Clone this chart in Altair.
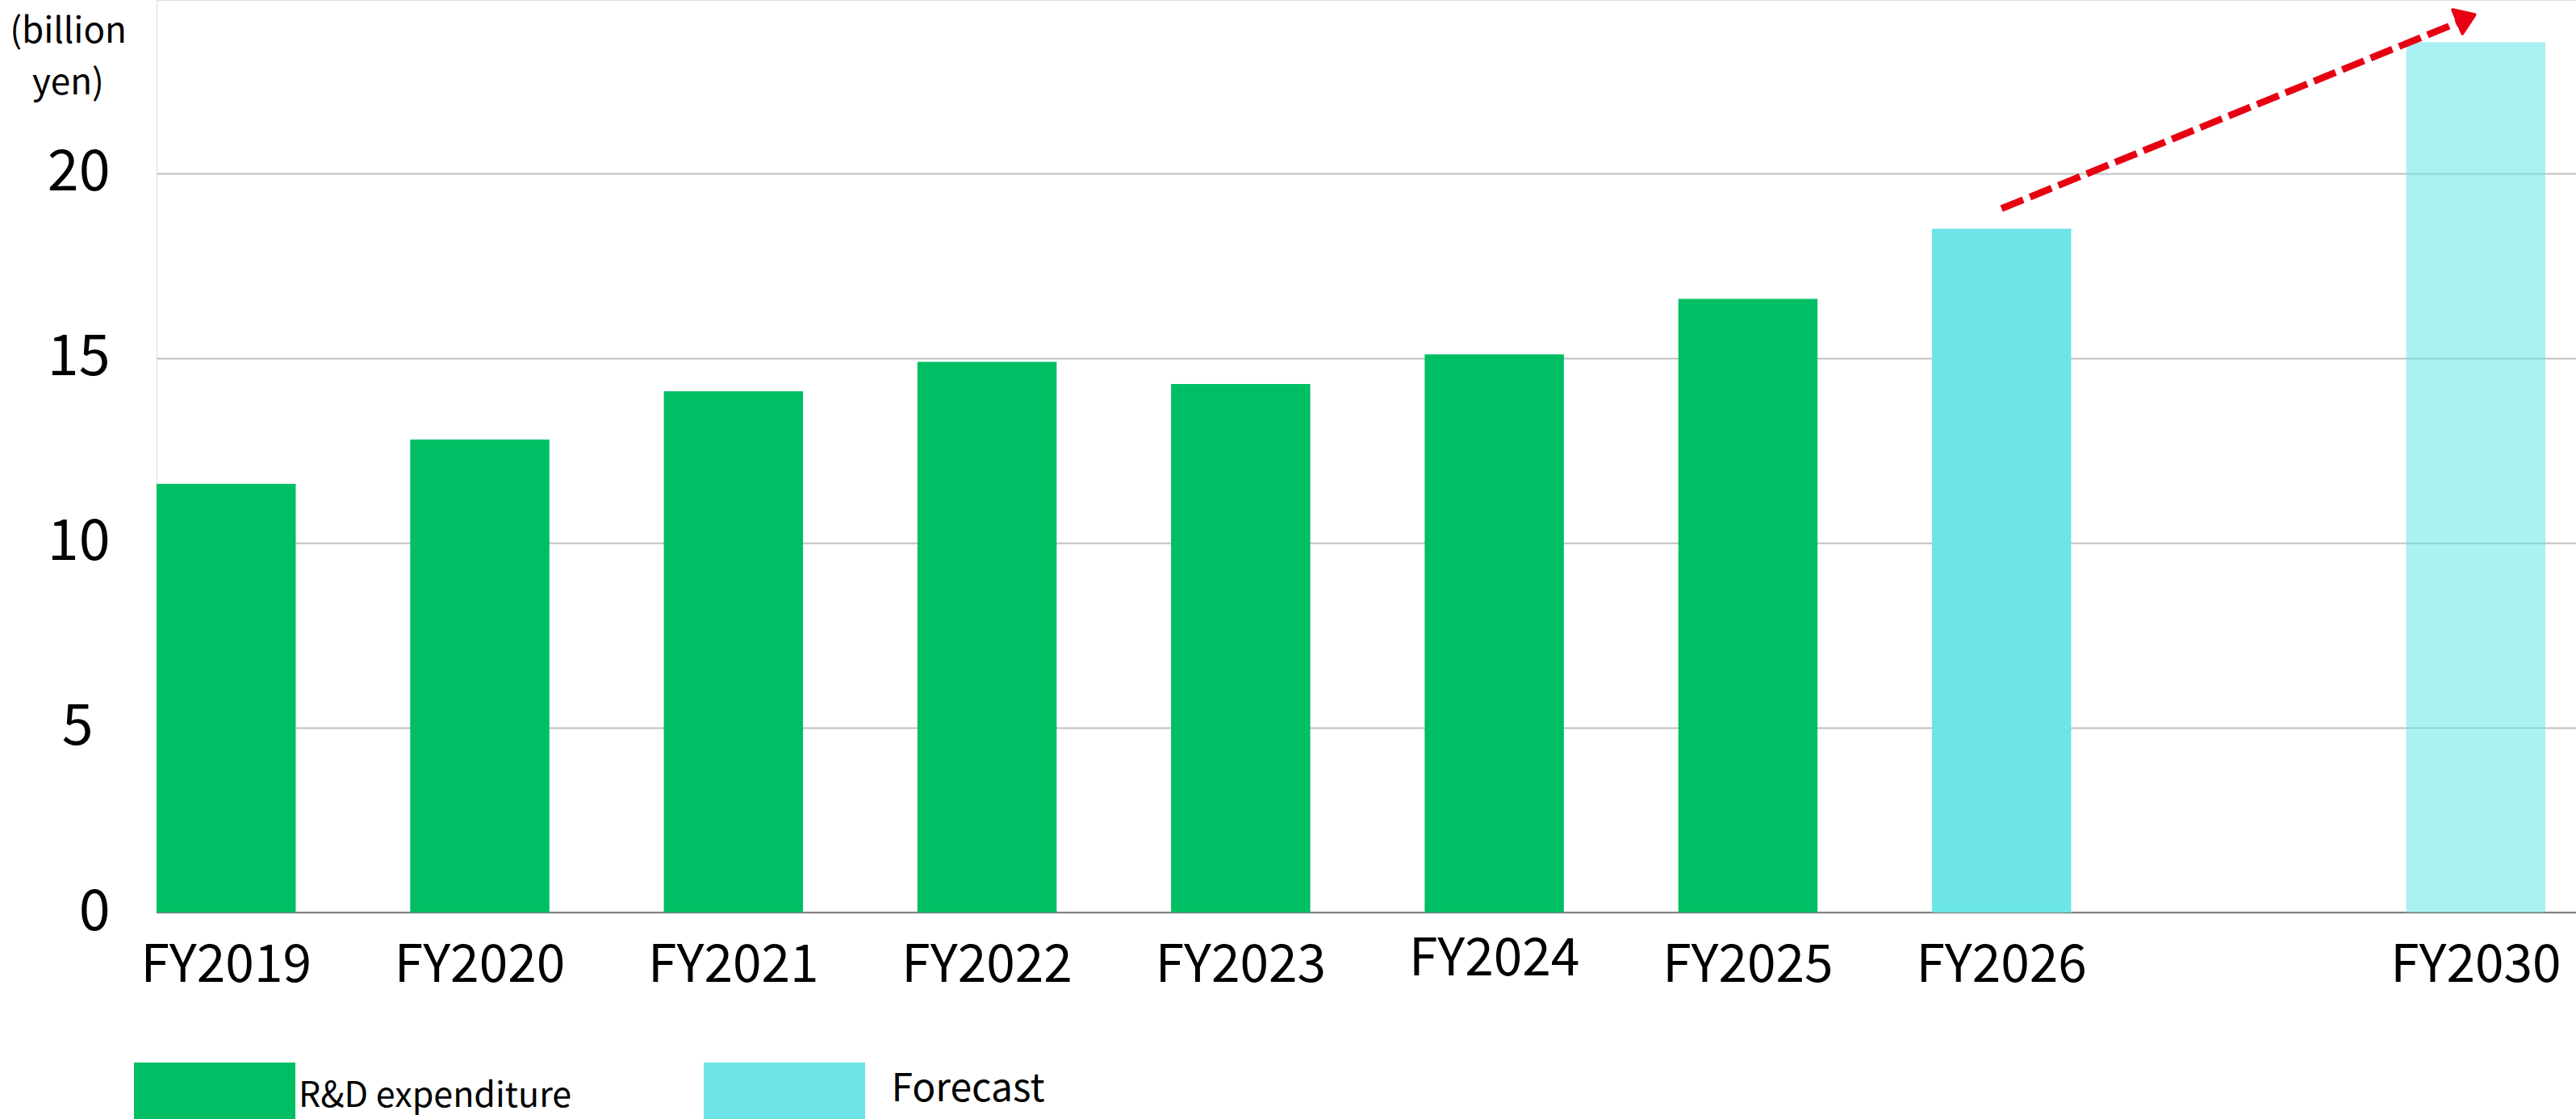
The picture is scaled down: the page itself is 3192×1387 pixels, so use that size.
import altair as alt
import pandas as pd

# ---- data ----
years = ["FY2019", "FY2020", "FY2021", "FY2022", "FY2023", "FY2024", "FY2025", "FY2026", "FY2030"]
values = [11.6, 12.8, 14.1, 14.9, 14.3, 15.1, 16.6, 18.5, 23.55]
series = ["R&D expenditure"] * 7 + ["Forecast"] * 2
y_ticks = [0, 5, 10, 15, 20]
unit_label = ["(billion", "yen)"]
legend_labels = ["R&D expenditure", "Forecast"]
colors = ["#00BE64", "#6CE4E8"]

# ---- layout constants ----
FONT = "Noto Sans CJK JP"
W, H = 2998, 1131
LEFT_PAD, BOTTOM_PAD = 194, 256
GAP_BEFORE_LAST = 1.87     # slot distance between FY2026 and FY2030
HALF = 0.2744              # half bar width in slot units
X_DOMAIN = [-0.2744, 9.265]
Y_DOMAIN = [0, 24.69]

slots = list(range(len(years) - 1))
slots.append(slots[-1] + GAP_BEFORE_LAST)

df = pd.DataFrame({"year": years, "value": values, "series": series, "slot": slots})

fc = df[df["series"] == "Forecast"]
arrow_df = pd.DataFrame({
    "x_from": [fc["slot"].iloc[0]], "y_from": [fc["value"].iloc[0]],
    "x_to": [fc["slot"].iloc[-1]], "y_to": [fc["value"].iloc[-1]],
})

x_scale = alt.Scale(domain=X_DOMAIN, nice=False, zero=False)
y_scale = alt.Scale(domain=Y_DOMAIN, nice=False)
color_scale = alt.Scale(domain=legend_labels, range=colors)

y_axis = alt.Axis(
    values=y_ticks, grid=True, gridColor="#BFBFBF", gridWidth=2,
    domain=False, ticks=False, labelFontSize=70,
    labelPadding=alt.condition("datum.value == 5", alt.value(79), alt.value(58)),
    labelColor="#000000", labelBaseline="middle",
    title=unit_label, titleAngle=0, titleAlign="center", titleBaseline="alphabetic",
    titleX=84 - LEFT_PAD, titleY=52, titleFontSize=44, titleFontWeight="normal",
    titleLineHeight=64, titleColor="#000000",
)

zero_line = alt.Chart(pd.DataFrame({"z": [0]})).mark_rule(color="#808080", strokeWidth=2).encode(
    y=alt.Y("z:Q", scale=y_scale, axis=y_axis),
    x=alt.value(0), x2=alt.value(W),
)

bars = alt.Chart(df).mark_rect().transform_calculate(
    x0=f"datum.slot - {HALF}", x1=f"datum.slot + {HALF}", base="0"
).encode(
    x=alt.X("x0:Q", scale=x_scale, axis=None),
    x2="x1:Q",
    y=alt.Y("value:Q", scale=y_scale),
    y2="base:Q",
    color=alt.Color("series:N", scale=color_scale, legend=None),
    opacity=alt.condition(alt.datum.year == "FY2030", alt.value(0.57), alt.value(1.0)),
)

def year_labels(test, baseline_y):
    return alt.Chart(df).transform_filter(test).mark_text(
        fontSize=64, baseline="alphabetic", align="center", color="#000000"
    ).encode(
        x=alt.X("slot:Q", scale=x_scale, axis=None),
        y=alt.value(baseline_y),
        text="year:N",
    )

x_labels = year_labels(alt.datum.year != "FY2024", 1216.7)
x_label_raised = year_labels(alt.datum.year == "FY2024", 1209.2)

arrow_line = alt.Chart(arrow_df).mark_rule(
    color="#E60012", strokeWidth=8.5, strokeDash=[29, 9], strokeCap="butt",
    yOffset=-25, x2Offset=-18, y2Offset=-26,
).encode(
    x=alt.X("x_from:Q", scale=x_scale, axis=None),
    y=alt.Y("y_from:Q", scale=y_scale),
    x2="x_to:Q",
    y2="y_to:Q",
)

arrow_head = alt.Chart(arrow_df).mark_point(
    shape="M1,0L-0.45,1L-0.45,-1Z", size=1000, angle=338, filled=True,
    color="#E60012", stroke="#E60012", strokeWidth=4, strokeJoin="round",
    opacity=1, xOffset=-16, yOffset=-28,
).encode(
    x=alt.X("x_to:Q", scale=x_scale, axis=None),
    y=alt.Y("y_to:Q", scale=y_scale),
)

def legend_entry(label, x0, x1, tx, ty, fs):
    d = pd.DataFrame({"label": [label]})
    sw = alt.Chart(d).mark_rect().encode(
        x=alt.value(x0 - LEFT_PAD), x2=alt.value(x1 - LEFT_PAD),
        y=alt.value(1317), y2=alt.value(1400),
        color=alt.Color("label:N", scale=color_scale, legend=None),
    )
    tx_ = alt.Chart(d).mark_text(
        align="left", baseline="alphabetic", fontSize=fs, color="#000000"
    ).encode(x=alt.value(tx - LEFT_PAD), y=alt.value(ty), text="label:N")
    return [sw, tx_]

legend_layers = legend_entry(legend_labels[0], 166, 366, 370, 1371.7, 43) + \
    legend_entry(legend_labels[1], 872, 1072, 1104.5, 1365, 48)

chart = alt.layer(
    zero_line, bars, x_labels, x_label_raised, arrow_line, arrow_head, *legend_layers
).properties(
    width=W, height=H,
    padding={"left": LEFT_PAD, "top": 0, "right": 0, "bottom": BOTTOM_PAD},
    autosize=alt.AutoSizeParams(type="none"),
).configure_view(stroke=None).configure(font=FONT, background="white")

chart.save("out.html", embed_options={"renderer": "svg", "actions": False})
